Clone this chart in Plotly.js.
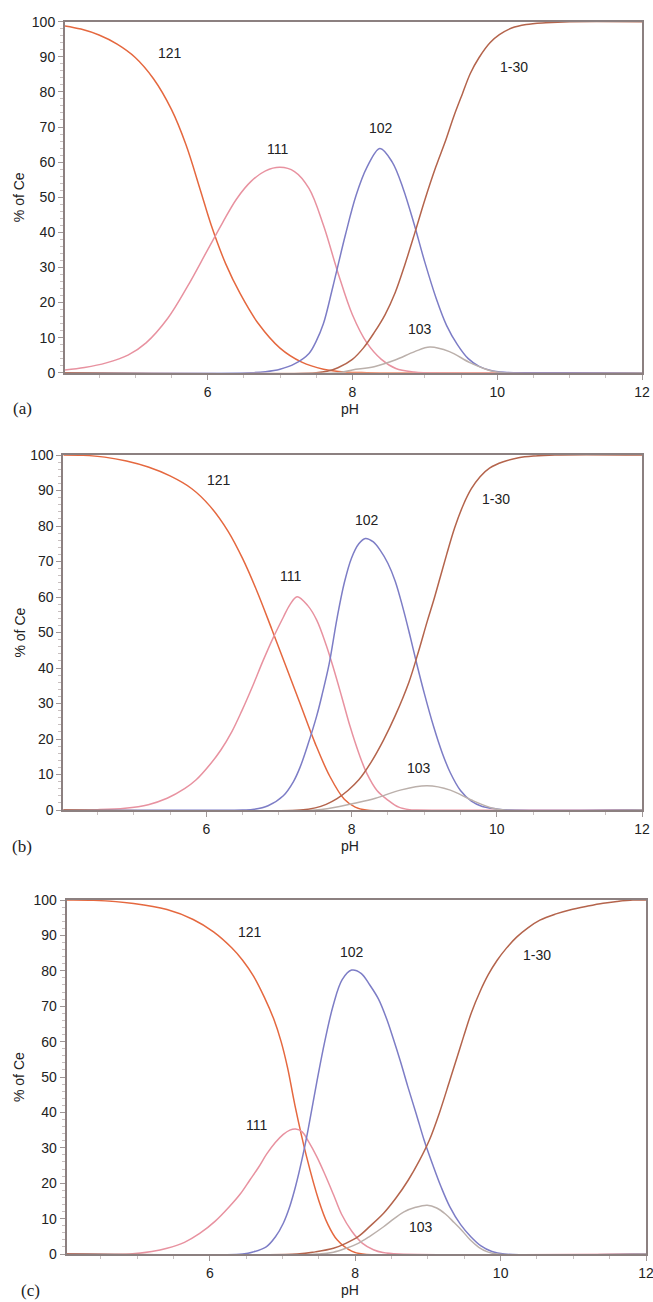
<!DOCTYPE html>
<html>
<head>
<meta charset="utf-8">
<script src="https://cdn.plot.ly/plotly-3.0.1.min.js"></script>
<style>
  html, body { margin: 0; padding: 0; background: #ffffff; }
  #chart { width: 653px; height: 1302px; }
</style>
</head>
<body>
<div id="chart"></div>
<script>
// ---------- Data ----------
const seriesNames = ["121", "111", "102", "103", "1-30"];
const xTickVals = [6, 8, 10, 12];
const panelLabels = ["(a)", "(b)", "(c)"];

// Panel (a)
const pH121a = [4.03, 4.25, 4.5, 4.75, 5.0, 5.25, 5.5, 5.7, 5.9, 6.05, 6.25, 6.45, 6.7, 7.0, 7.3, 7.6, 7.9, 8.2, 12];
const v121a  = [98.8, 97.9, 96.2, 93.6, 89.8, 83.8, 75, 65, 52, 42, 31, 22.5, 14, 7, 3, 1, 0.2, 0, 0];
const pH111a = [4.03, 4.3, 4.6, 4.9, 5.15, 5.45, 5.72, 6.0, 6.2, 6.4, 6.6, 6.8, 7.0, 7.2, 7.4, 7.6, 7.8, 8.0, 8.2, 8.4, 8.6, 8.85, 9.0, 12];
const v111a  = [0.8, 1.5, 2.8, 5, 8.5, 15.5, 24.5, 35, 42.5, 49.5, 54.5, 57.5, 58.5, 57.3, 52.5, 42, 28.5, 16.5, 8.5, 3.8, 1.2, 0.2, 0, 0];
const pH102a = [4.03, 6.6, 6.8, 7.0, 7.2, 7.4, 7.5, 7.6, 7.73, 7.9, 8.05, 8.2, 8.38, 8.55, 8.7, 8.85, 9.0, 9.16, 9.3, 9.45, 9.6, 9.75, 9.9, 10.1, 10.3, 12];
const v102a  = [0, 0, 0.3, 1, 2.5, 5.5, 9, 14, 24.5, 39, 50.5, 58.5, 63.9, 60, 52.5, 42.5, 31.5, 21, 13.5, 8, 4, 1.8, 0.7, 0.1, 0, 0];
const pH103a = [4.03, 7.8, 8.0, 8.3, 8.59, 8.86, 9.07, 9.34, 9.63, 9.92, 10.1, 12];
const v103a  = [0, 0, 0.8, 1.7, 3.6, 6, 7.3, 6, 2.8, 0.5, 0, 0];
const pH130a = [4.03, 7.5, 7.65, 7.8, 8.0, 8.15, 8.3, 8.45, 8.59, 8.72, 8.86, 9.0, 9.15, 9.29, 9.4, 9.52, 9.63, 9.75, 9.9, 10.03, 10.2, 10.4, 10.67, 11.0, 12];
const v130a  = [0, 0, 0.4, 1.4, 3.8, 7, 11.4, 16.5, 22.8, 30.5, 39.7, 49.2, 58.5, 66.3, 73, 79.5, 85.3, 89.8, 94, 96.3, 98.2, 99.2, 99.7, 100, 100];

// Panel (b)
const pH121b = [4.03, 4.3, 4.6, 4.9, 5.2, 5.5, 5.8, 6.05, 6.3, 6.5, 6.7, 6.9, 7.1, 7.3, 7.5, 7.7, 7.9, 8.05, 8.2, 12];
const v121b  = [100, 99.9, 99.4, 98.3, 96.6, 94.1, 90.5, 85.6, 78.5, 70.8, 61.5, 51, 40.3, 29.5, 18.7, 9.5, 3, 0.8, 0, 0];
const pH111b = [4.03, 4.5, 4.88, 5.2, 5.46, 5.7, 5.86, 6.05, 6.2, 6.35, 6.49, 6.65, 6.78, 6.92, 7.06, 7.15, 7.25, 7.4, 7.52, 7.65, 7.75, 7.87, 7.98, 8.1, 8.21, 8.35, 8.5, 8.65, 8.8, 8.9, 12];
const v111b  = [0, 0.1, 0.5, 1.5, 3.3, 6, 8.5, 12.8, 16.9, 22, 28, 35.5, 42, 48.5, 54.3, 57.8, 60.1, 57.5, 53.5, 46.5, 40, 31.5, 23.5, 16, 10.3, 5.5, 2.8, 0.8, 0.1, 0, 0];
const pH102b = [4.03, 6.5, 6.66, 6.85, 7.06, 7.2, 7.29, 7.4, 7.52, 7.6, 7.69, 7.8, 7.9, 8.0, 8.1, 8.19, 8.3, 8.4, 8.5, 8.6, 8.7, 8.8, 8.9, 9.0, 9.13, 9.25, 9.36, 9.5, 9.65, 9.8, 10.0, 10.15, 12];
const v102b  = [0, 0, 0.2, 1.2, 4, 8, 12, 18.5, 26.5, 33, 41, 54, 64, 71, 75, 76.5, 75.5, 73, 69.5, 64.5, 57.5, 49.5, 41, 33, 23.5, 16, 10.5, 5.5, 2.5, 1, 0.3, 0, 0];
const pH103b = [4.03, 7.5, 7.7, 8.04, 8.33, 8.67, 9.04, 9.36, 9.65, 9.94, 10.1, 12];
const v103b  = [0, 0, 0.5, 1.9, 3.3, 5.6, 6.8, 5.6, 2.8, 0.5, 0, 0];
const pH130b = [4.03, 7.3, 7.5, 7.65, 7.8, 7.95, 8.1, 8.27, 8.44, 8.6, 8.79, 8.92, 9.04, 9.13, 9.22, 9.31, 9.42, 9.54, 9.65, 9.77, 9.9, 10.09, 10.3, 10.51, 10.8, 12];
const v130b  = [0, 0, 0.6, 1.6, 3.2, 5.5, 8.5, 13.5, 19.7, 26.5, 36, 44.5, 53, 59, 65.5, 72, 79.5, 86, 90.5, 93.9, 96.3, 98.1, 99.2, 99.7, 100, 100];

// Panel (c)
const pH121c = [4.03, 4.4, 4.95, 5.41, 5.77, 6.05, 6.3, 6.45, 6.6, 6.75, 6.88, 6.98, 7.07, 7.17, 7.33, 7.5, 7.62, 7.75, 7.95, 8.1, 12];
const v121c  = [100, 99.9, 99, 97.3, 94.5, 91, 86.5, 83, 78.5, 72.5, 66.3, 60, 52.5, 42, 27.5, 15, 8.5, 4, 0.8, 0, 0];
const pH111c = [4.03, 4.9, 5.2, 5.41, 5.65, 5.86, 6.07, 6.27, 6.42, 6.55, 6.67, 6.78, 6.9, 7.01, 7.1, 7.18, 7.27, 7.35, 7.47, 7.58, 7.7, 7.81, 7.95, 8.1, 8.25, 8.38, 8.6, 12];
const v111c  = [0, 0, 0.7, 1.6, 3.3, 5.8, 9.2, 13.4, 17, 20.9, 24.5, 28.2, 31.5, 33.8, 35, 35.3, 34.5, 32, 27.5, 22.6, 16.8, 11.3, 6.5, 3, 1.2, 0.4, 0, 0];
const pH102c = [4.03, 6.45, 6.6, 6.78, 6.9, 7.01, 7.1, 7.18, 7.27, 7.35, 7.47, 7.58, 7.7, 7.82, 7.95, 8.08, 8.2, 8.32, 8.43, 8.52, 8.62, 8.72, 8.84, 8.95, 9.07, 9.18, 9.3, 9.45, 9.59, 9.73, 9.88, 10.05, 12];
const v102c  = [0, 0, 0.6, 2.1, 4.8, 8.7, 13.5, 19.2, 27, 35, 48.5, 60, 70.5, 77.5, 80.2, 79.3, 76, 72, 66.5, 61, 54.5, 47.5, 39.5, 32, 25, 19, 13.4, 8.3, 4.9, 2.3, 0.7, 0, 0];
const pH103c = [4.03, 7.5, 7.7, 7.87, 8.04, 8.2, 8.39, 8.53, 8.67, 8.83, 8.99, 9.12, 9.24, 9.36, 9.47, 9.58, 9.7, 9.82, 9.95, 12];
const v103c  = [0, 0, 0.5, 1.6, 3, 5, 7.7, 9.9, 11.9, 13.2, 13.8, 13, 11.3, 8.9, 6.6, 4, 1.9, 0.6, 0, 0];
const pH130c = [4.03, 7.2, 7.45, 7.7, 7.87, 8.04, 8.2, 8.39, 8.56, 8.73, 8.88, 9.02, 9.16, 9.3, 9.4, 9.49, 9.6, 9.72, 9.83, 9.95, 10.08, 10.22, 10.38, 10.54, 10.75, 10.95, 11.2, 11.41, 11.6, 11.82, 12];
const v130c  = [0, 0, 0.6, 1.6, 3, 4.9, 7.8, 11.5, 15.8, 20.9, 26.3, 32.2, 40, 49, 55.5, 61.4, 68.3, 74.3, 78.9, 82.9, 86.4, 89.5, 92.2, 94.3, 96, 97.2, 98.3, 99.1, 99.6, 100, 100];

// Curve labels: [text, pH, %]
const labelsA = [["121", 5.48, 91.1], ["111", 6.97, 63.7], ["102", 8.39, 69.7], ["1-30", 10.23, 87.1], ["103", 8.93, 12.4]];
const labelsB = [["121", 6.17, 93], ["111", 7.16, 65.9], ["102", 8.21, 81.7], ["1-30", 9.99, 87.5], ["103", 8.93, 11.7]];
const labelsC = [["121", 6.55, 91], ["111", 6.64, 36.4], ["102", 7.95, 85.4], ["1-30", 10.5, 84.5], ["103", 8.9, 7.7]];

// ---------- Styling ----------
const colors = { "121": "#e5683f", "111": "#e892a0", "102": "#7d7dc6", "103": "#bbb0ab", "1-30": "#b4644c" };
const W = 653, H = 1302;
// plot-area pixel boxes [left, right, top, bottom]
const boxes = [[65, 642, 21.7, 372.7], [63.3, 642, 455, 810], [66.7, 646, 900, 1254]];
const tagX = [22, 22, 30];

const panels = [
  { s: { "121": [pH121a, v121a], "111": [pH111a, v111a], "102": [pH102a, v102a], "103": [pH103a, v103a], "1-30": [pH130a, v130a] }, labels: labelsA },
  { s: { "121": [pH121b, v121b], "111": [pH111b, v111b], "102": [pH102b, v102b], "103": [pH103b, v103b], "1-30": [pH130b, v130b] }, labels: labelsB },
  { s: { "121": [pH121c, v121c], "111": [pH111c, v111c], "102": [pH102c, v102c], "103": [pH103c, v103c], "1-30": [pH130c, v130c] }, labels: labelsC }
];

const font = "Liberation Sans, Arial, Helvetica, sans-serif";
const traces = [];
const annotations = [];
const layout = {
  width: W, height: H,
  margin: { l: 0, r: 0, t: 0, b: 0 },
  paper_bgcolor: "#ffffff", plot_bgcolor: "#ffffff",
  showlegend: false,
  annotations: annotations
};

panels.forEach((p, i) => {
  const sfx = i === 0 ? "" : String(i + 1);
  const xa = "x" + sfx, ya = "y" + sfx;
  const [l, r, t, b] = boxes[i];
  layout["xaxis" + sfx] = {
    domain: [l / W, r / W], range: [4.03, 12], anchor: ya,
    tickvals: xTickVals, ticks: "outside", ticklen: 5, tickwidth: 1, tickcolor: "#a09898",
    ticklabeloverflow: "allow",
    showline: true, linecolor: "#8c8080", linewidth: 2, mirror: true,
    showgrid: false, zeroline: false,
    minor: { ticks: "outside", dtick: 0.5, ticklen: 3, tickcolor: "#c8c0c0", showgrid: false },
    tickfont: { family: font, size: 14, color: "#222" }
  };
  layout["yaxis" + sfx] = {
    domain: [1 - b / H, 1 - t / H], range: [0, 100], anchor: xa,
    dtick: 10, ticks: "outside", ticklen: 5, tickwidth: 1, tickcolor: "#a09898",
    showline: true, linecolor: "#8c8080", linewidth: 2, mirror: true,
    showgrid: false, zeroline: false,
    minor: { ticks: "outside", dtick: 2, ticklen: 3, tickcolor: "#c8c0c0", showgrid: false },
    tickfont: { family: font, size: 14, color: "#222" }
  };
  seriesNames.forEach(n => {
    const [xs, ys] = p.s[n];
    traces.push({
      type: "scatter", mode: "lines", x: xs, y: ys, xaxis: xa, yaxis: ya,
      line: { color: colors[n], width: 1.5, shape: "spline", smoothing: 1 },
      hoverinfo: "skip", name: n
    });
  });
  p.labels.forEach(([txt, lx, ly]) => {
    annotations.push({ text: txt, x: lx, y: ly, xref: xa, yref: ya, showarrow: false,
      xanchor: "center", yanchor: "middle",
      font: { family: font, size: 14, color: "#222" } });
  });
  // y-axis title
  annotations.push({ text: "% of Ce", xref: "paper", yref: "paper", x: 19 / W, y: 1 - ((t + b) / 2) / H,
    xanchor: "center", yanchor: "middle",
    textangle: -90, showarrow: false, font: { family: font, size: 14, color: "#222" } });
  // x-axis title
  annotations.push({ text: "pH", xref: "paper", yref: "paper", x: 350 / W, y: 1 - (b + 36) / H,
    xanchor: "center", yanchor: "middle",
    showarrow: false, font: { family: font, size: 14, color: "#222" } });
  // panel tag
  annotations.push({ text: panelLabels[i], xref: "paper", yref: "paper", x: tagX[i] / W, y: 1 - (b + 36) / H,
    xanchor: "center", yanchor: "middle",
    showarrow: false, font: { family: "Liberation Serif, Times New Roman, serif", size: 17, color: "#222" } });
});

Plotly.newPlot("chart", traces, layout, { staticPlot: true, displayModeBar: false });
</script>
</body>
</html>
